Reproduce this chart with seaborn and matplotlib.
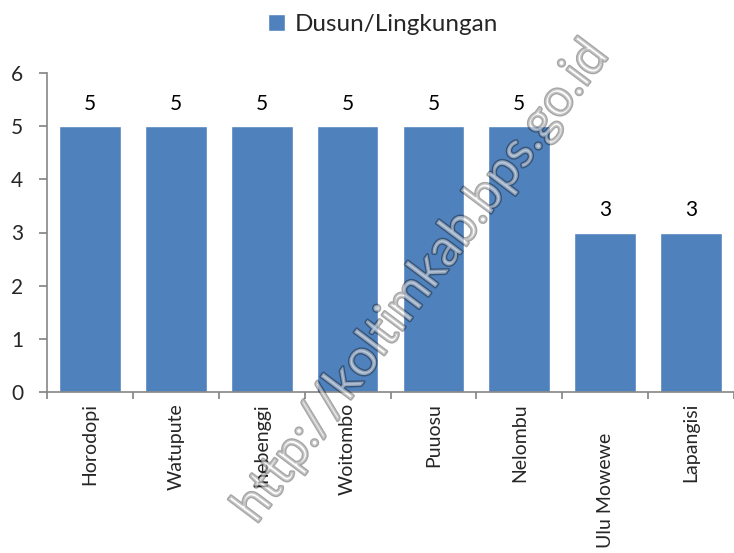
import matplotlib
matplotlib.use("Agg")
import matplotlib.pyplot as plt
import matplotlib.patheffects as pe
from matplotlib.transforms import ScaledTranslation
import seaborn as sns
import pandas as pd
from matplotlib.patches import Patch

categories = ["Horodopi", "Watupute", "Inebenggi", "Woitombo", "Puuosu", "Nelombu", "Ulu Mowewe", "Lapangisi"]
values = [5, 5, 5, 5, 5, 5, 3, 3]
series_name = "Dusun/Lingkungan"
yticks = [0, 1, 2, 3, 4, 5, 6]

sns.set_theme(style="white")
plt.rcParams['font.family'] = ['Lato', 'DejaVu Sans']

df = pd.DataFrame({"cat": categories, "val": values})
fig = plt.figure(figsize=(7.34, 5.53), dpi=100)
ax = fig.add_axes([47/734, (553-392)/553, (734-47)/734, (392-73)/553])
color = "#4F81BD"
sns.barplot(data=df, x="cat", y="val", color=color, saturation=1, width=0.72, ax=ax)
ax.set_xlim(-0.5, 7.5)
ax.set_ylim(0, 6)
ax.set_yticks(yticks)
ax.set_yticklabels([str(t) for t in yticks], fontsize=15)
ax.set_xlabel("")
ax.set_ylabel("")
for c in ax.containers:
    ax.bar_label(c, labels=[str(v) for v in values], padding=9, fontsize=15, color="black")

ax.set_xticks([i - 0.5 for i in range(len(categories) + 1)], minor=False)
ax.set_xticklabels([""] * (len(categories) + 1))
ax.set_xticks(range(len(categories)), minor=True)
ax.set_xticklabels(categories, minor=True, rotation=90, fontsize=14, va="top")
ax.tick_params(axis="x", which="minor", length=0, pad=8)
ax.tick_params(axis="x", which="major", length=5, color="#868686", direction="out", bottom=True)
ax.tick_params(axis="y", length=6, color="#868686", direction="out", left=True, pad=11)
for s in ["top", "right"]:
    ax.spines[s].set_visible(False)
for s in ["left", "bottom"]:
    ax.spines[s].set_color("#868686")
    ax.spines[s].set_linewidth(1.2)

lbl = ax.get_xticklabels(minor=True)[6]
lbl.set_transform(lbl.get_transform() + ScaledTranslation(0, -0.3, fig.dpi_scale_trans))

fig.legend(handles=[Patch(facecolor=color, label=series_name)], loc="upper center",
           bbox_to_anchor=(0.522, 1.015), frameon=False, fontsize=17.5, handlelength=0.7,
           handleheight=0.7, handletextpad=0.4)

fig.text(0.575, 0.49, "http://koltimkab.bps.go.id", rotation=53, fontsize=37,
         ha="center", va="center", color="white", alpha=0.35,
         path_effects=[pe.withStroke(linewidth=2, foreground="black")])

fig.savefig("out.png", dpi=100)
